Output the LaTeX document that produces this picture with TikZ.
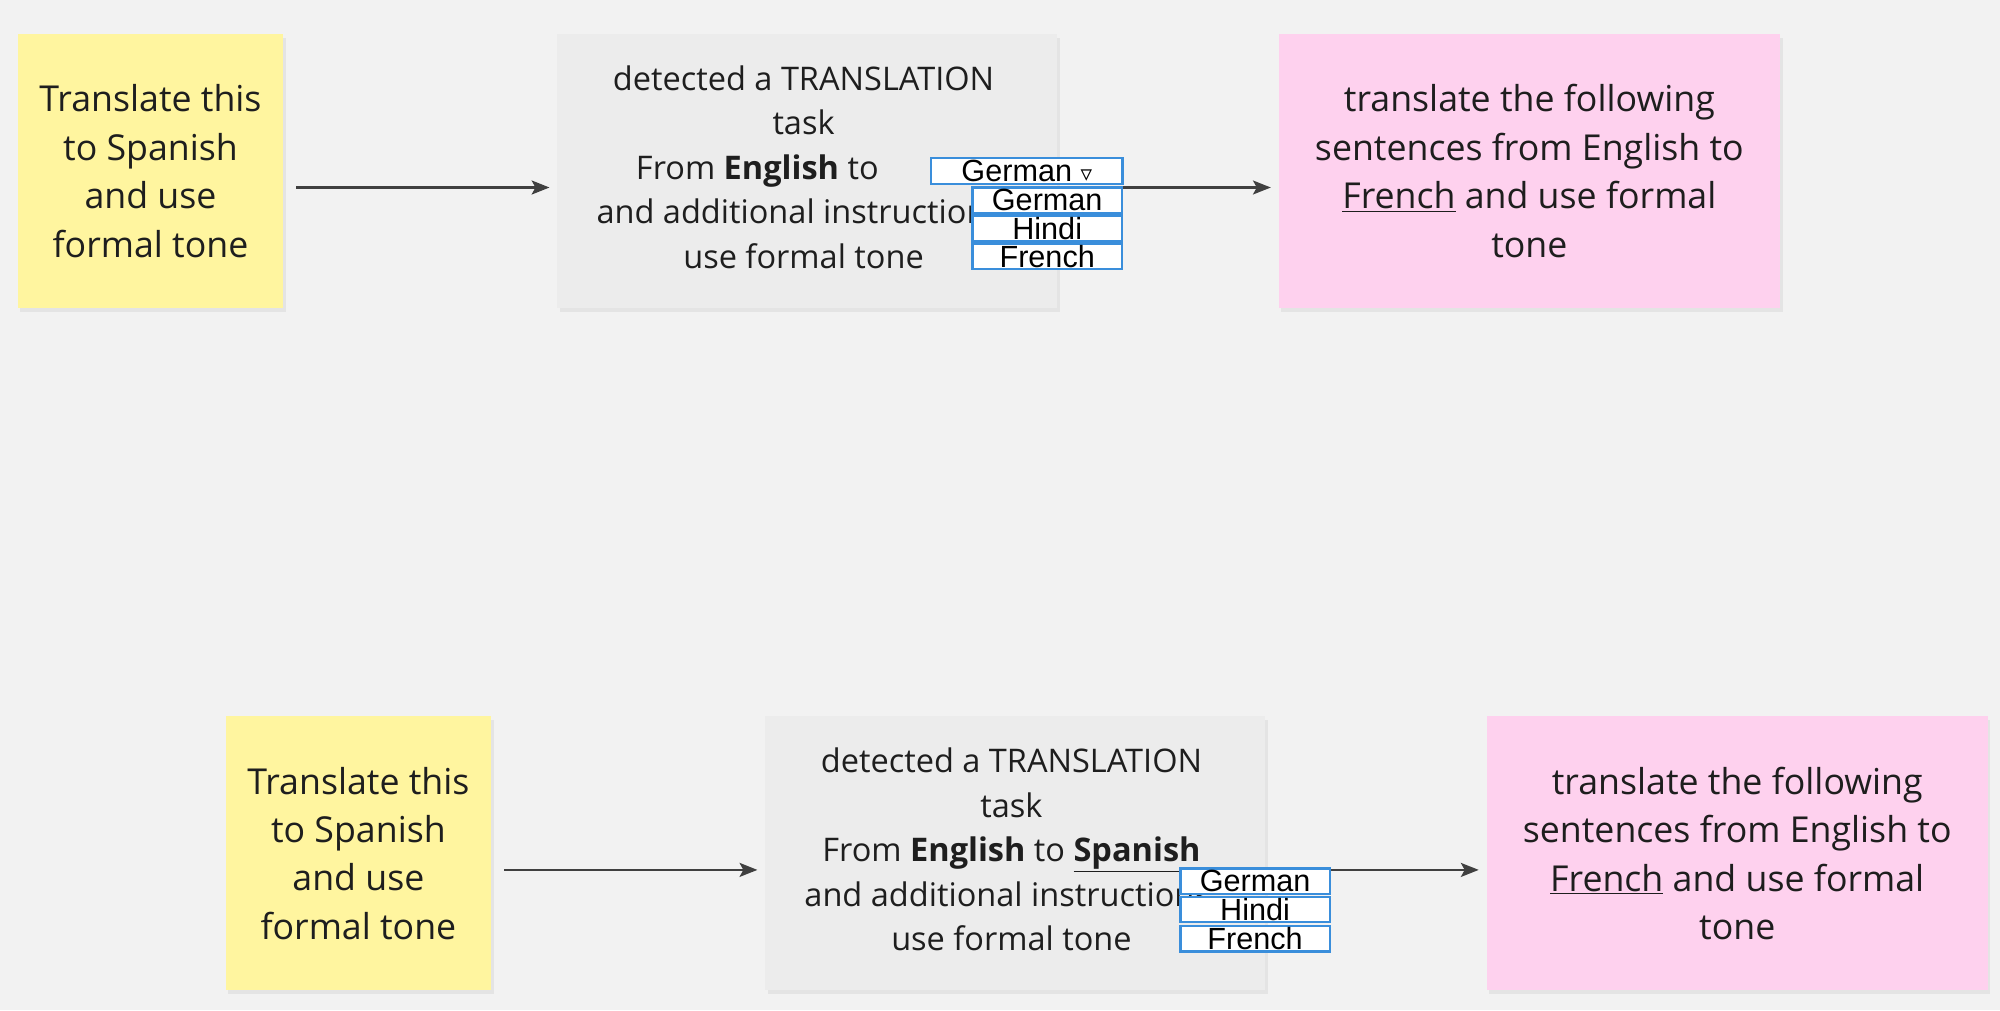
\documentclass[tikz,border=0pt]{standalone}
\usepackage{fontspec}
\setmainfont{Open Sans}
\newfontfamily\arialfont{Liberation Sans}
\newfontfamily\symfont{DejaVu Sans}
\usepackage{tikz}
\usetikzlibrary{positioning,shadows,arrows.meta}
\definecolor{bgpaper}{HTML}{F2F2F2}
\definecolor{stickyyellow}{HTML}{FFF59F}
\definecolor{stickypink}{HTML}{FED1EE}
\definecolor{stickygray}{HTML}{ECECEC}
\definecolor{dropblue}{HTML}{3A8EDB}
\definecolor{inkdark}{HTML}{1E1E1E}
\tikzset{
	sticky/.style={rectangle, draw=none, text=inkdark, align=center,
		font=\fontsize{28}{38}\selectfont, minimum height=215pt,
		drop shadow={opacity=0.12, shadow xshift=2pt, shadow yshift=-3pt}},
	nota/.style={sticky, fill=stickyyellow, minimum width=208pt},
	prompt/.style={sticky, fill=stickypink, minimum width=393pt},
	detector/.style={sticky, fill=stickygray, minimum width=392pt},
	textodet/.style={inkdark, align=center, font=\fontsize{25.5}{35}\selectfont},
	opcion/.style={rectangle, draw=dropblue, line width=1.8pt, fill=white,
		minimum width=117pt, minimum height=20pt, inner sep=0pt,
		font=\arialfont\fontsize{24}{22}\selectfont},
	flecha/.style={-{Stealth[length=14pt,width=11pt,inset=3pt]}, line width=1.6pt,
		draw=inkdark!85, shorten >=6pt}
}
\begin{document}
\begin{tikzpicture}[x=1pt, y=-1pt]
	\fill[bgpaper] (0,0) rectangle (1568,792);
	\useasboundingbox (0,0) rectangle (1568,792);

	% fila superior
	\node[nota] (nota1) at (118,134) {Translate this\\to Spanish\\and use\\formal tone};
	\node[detector] (det1) at (633,134) {};
	\node[textodet] (det1txt) at (630,131)
		{detected a TRANSLATION\\task\\From \textbf{English} to \phantom{Spani}\\and additional instructions:\\use formal tone};
	\node[prompt] (prm1) at (1199,134) {translate the following\\sentences from English to\\\underline{French} and use formal\\tone};
	\node[opcion, minimum width=150pt] (sel1) at (805,134) {German {\symfont\fontsize{18}{18}\selectfont ▿}};
	\node[opcion] (op1a) at (821,157) {German};
	\node[opcion] (op1b) at (821,179) {Hindi};
	\node[opcion] (op1c) at (821,201) {French};
	\draw[flecha] (nota1.east) ++(10,13) coordinate (a1) -- (a1 -| det1.west);
	\draw[flecha] (op1a.east |- 0,147) coordinate (b1) -- (b1 -| prm1.west);

	% fila inferior
	\node[nota] (nota2) at (281,669) {Translate this\\to Spanish\\and use\\formal tone};
	\node[detector] (det2) at (796,669) {};
	\node[textodet] (det2txt) at (793,666)
		{detected a TRANSLATION\\task\\From \textbf{English} to \textbf{\underline{Spanish}}\\and additional instructions:\\use formal tone};
	\node[prompt] (prm2) at (1362,669) {translate the following\\sentences from English to\\\underline{French} and use formal\\tone};
	\node[opcion] (op2a) at (984,691) {German};
	\node[opcion] (op2b) at (984,713) {Hindi};
	\node[opcion] (op2c) at (984,736) {French};
	\draw[flecha] (nota2.east) ++(10,13) coordinate (a2) -- (a2 -| det2.west);
	\draw[flecha] (op2a.east |- 0,682) coordinate (b2) -- (b2 -| prm2.west);
\end{tikzpicture}
\end{document}
